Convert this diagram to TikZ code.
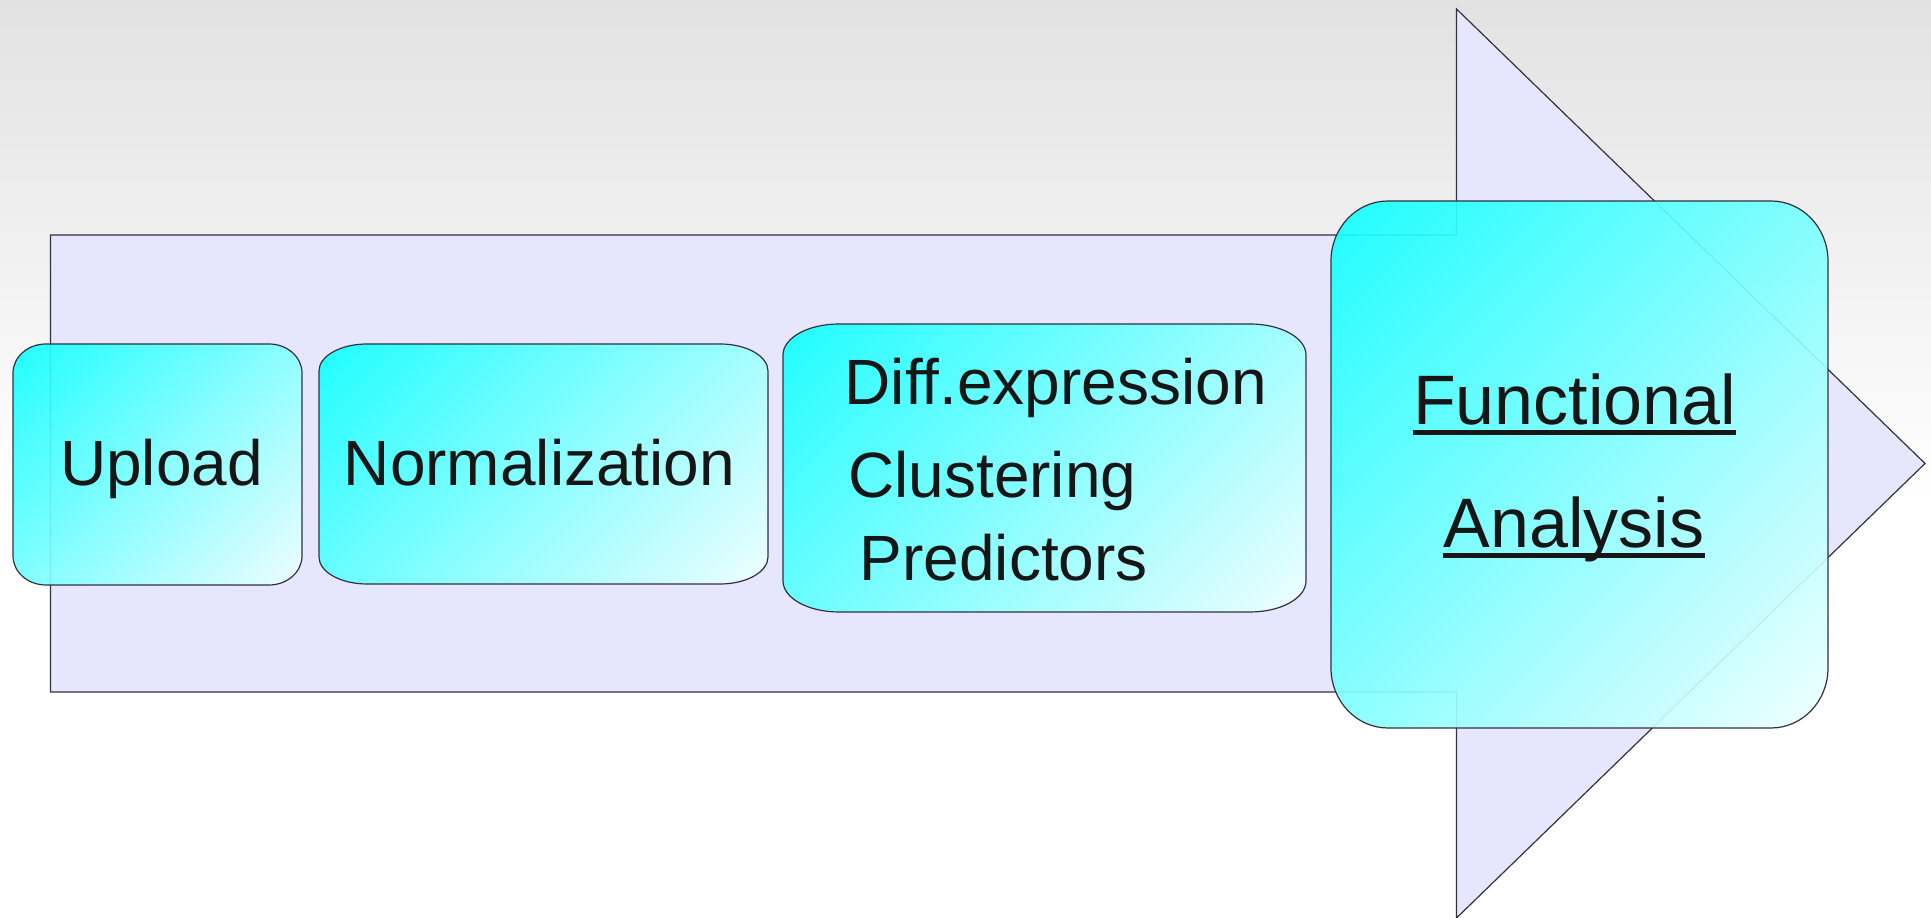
\documentclass[tikz,border=0pt]{standalone}
\usepackage{fontspec}
\setmainfont{Liberation Sans}
\definecolor{bgtop}{RGB}{226,226,226}
\definecolor{shaftfill}{RGB}{230,230,255}
\definecolor{cyanA}{RGB}{20,255,255}
\definecolor{cyanB}{RGB}{235,255,255}
\definecolor{edgec}{RGB}{50,50,60}
\definecolor{inkc}{RGB}{22,22,22}
\pgfdeclareverticalshading{stageshade}{100bp}{color(0bp)=(cyanB); color(16bp)=(cyanB); color(84bp)=(cyanA); color(100bp)=(cyanA)}
\tikzset{
  arrowshape/.style={draw=edgec, line width=1.2pt, fill=shaftfill, line join=miter},
  stagebox/.style={draw=edgec, line width=1.2pt, shading=stageshade, shading angle=45, fill opacity=0.92},
  lbl/.style={inner sep=0pt, text=inkc, font=\fontsize{64}{70}\selectfont},
  biglbl/.style={inner sep=0pt, text=inkc, font=\fontsize{70}{76}\selectfont},
  uline/.style={draw=inkc, line width=4.5pt}
}
% #1 x1, #2 y1 (bottom), #3 x2, #4 y2 (top), #5 rx, #6 ry
\newcommand\roundstage[6]{%
  \path[stagebox] (#1+#5,#2) -- (#3-#5,#2)
    arc[start angle=-90,end angle=0,x radius=#5,y radius=#6] -- (#3,#4-#6)
    arc[start angle=0,end angle=90,x radius=#5,y radius=#6] -- (#1+#5,#4)
    arc[start angle=90,end angle=180,x radius=#5,y radius=#6] -- (#1,#2+#6)
    arc[start angle=180,end angle=270,x radius=#5,y radius=#6] -- cycle;}
\begin{document}
\begin{tikzpicture}[x=1pt,y=1pt]
\useasboundingbox (0,0) rectangle (1931,918);
\fill[white] (0,0) rectangle (1931,918);
\shade[top color=bgtop, bottom color=white] (0,418) rectangle (1931,918);
% big arrow
\draw[arrowshape] (50.5,683) -- (1456.5,683) -- (1456.5,909) -- (1925,454.5)
  -- (1456.5,0) -- (1456.5,226) -- (50.5,226) -- cycle;
% stage boxes
\roundstage{13}{333}{302}{574}{33}{29}
\roundstage{319}{334}{768}{574}{48}{27}
\roundstage{783}{306}{1306}{594}{56}{31}
\roundstage{1331}{190}{1828}{717}{57}{60}
% labels
\node[lbl, anchor=base] (upload) at (161.5,432) {Upload};
\node[lbl, anchor=base] (norm) at (539.5,432) {Normalization};
\node[lbl, anchor=base west] (diff) at (844.5,513) {Diff.expression};
\node[lbl, anchor=base west] (clust) at (848,420) {Clustering};
\node[lbl, anchor=base west] (pred) at (859.5,337) {Predictors};
\node[biglbl, anchor=base] (func) at (1574.5,493) {Functional};
\node[biglbl, anchor=base] (anal) at (1574,370) {Analysis};
\draw[uline] ([yshift=-7.5pt]func.base west) -- ([yshift=-7.5pt]func.base east);
\draw[uline] ([yshift=-7.5pt]anal.base west) -- ([yshift=-7.5pt]anal.base east);
\end{tikzpicture}
\end{document}
